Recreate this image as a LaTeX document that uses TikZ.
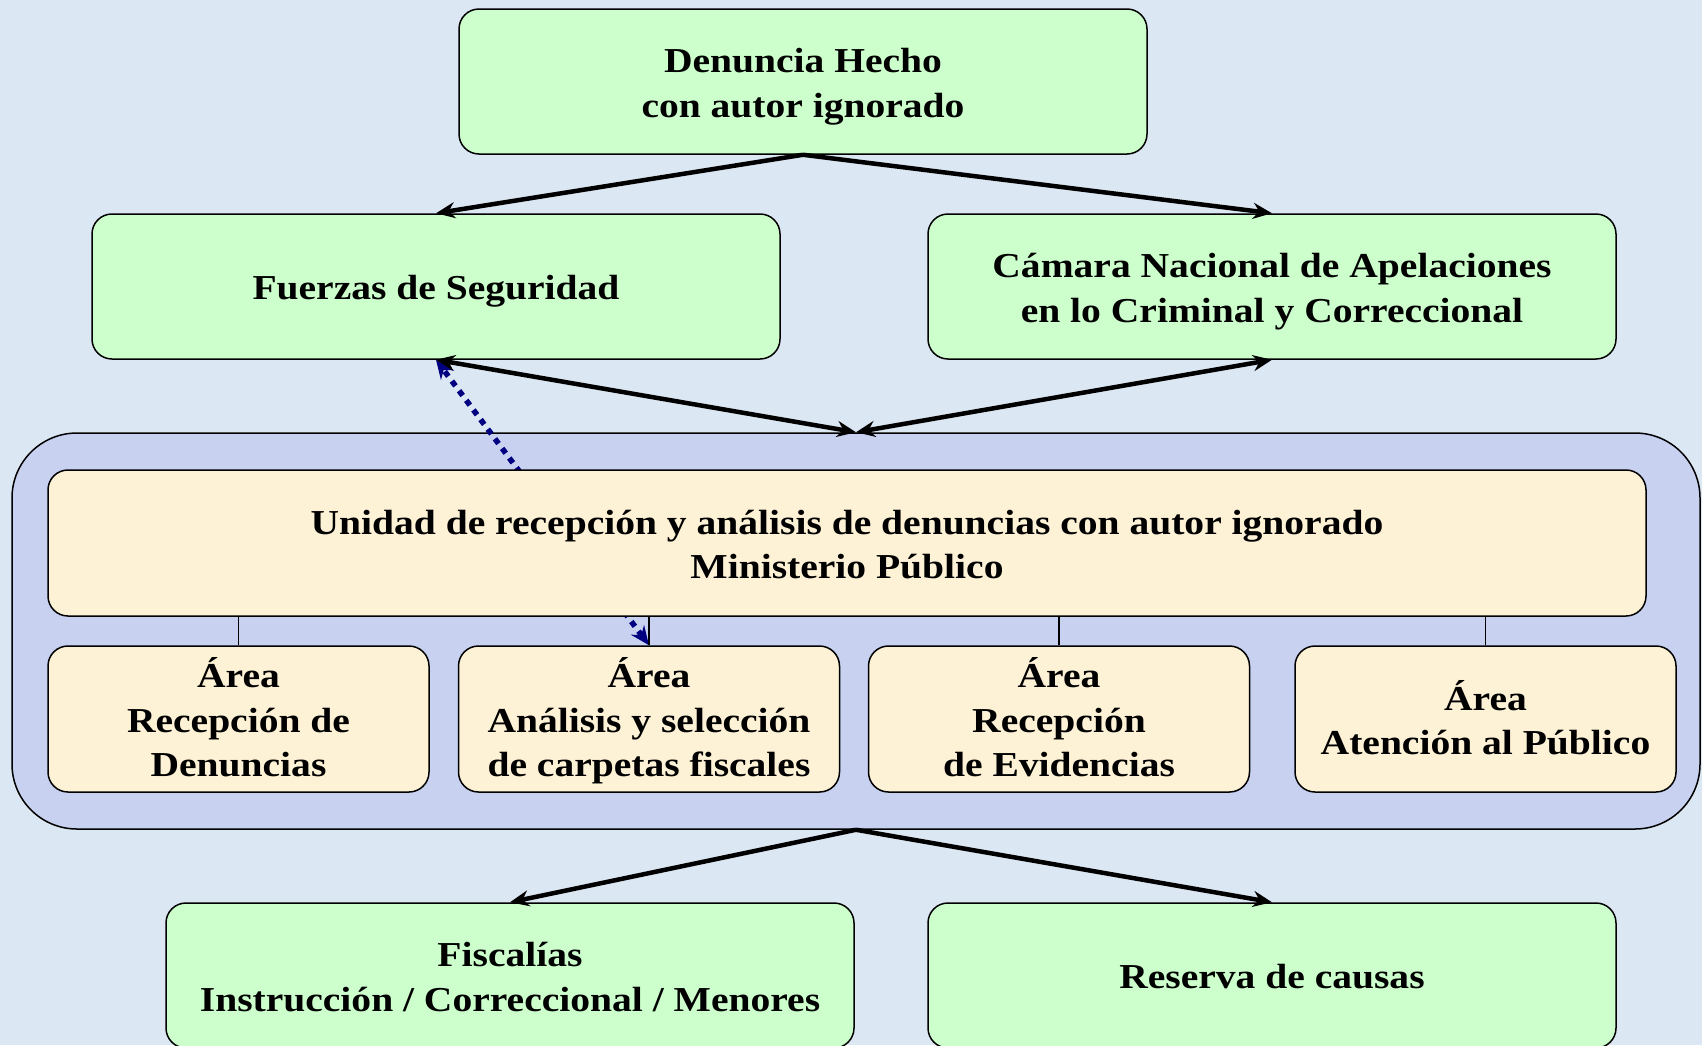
\documentclass[tikz,border=0pt]{standalone}
\usepackage{fontspec}
\setmainfont{Liberation Serif}[FakeStretch=1.13]
\usetikzlibrary{arrows.meta}
\definecolor{bgblue}{HTML}{DCE7F4}
\definecolor{contblue}{HTML}{C8D2F0}
\definecolor{boxgreen}{HTML}{CCFFCC}
\definecolor{boxbeige}{HTML}{FDF1D6}
\definecolor{dotnavy}{HTML}{000080}
\newcommand\mystr{\rule[-9pt]{0pt}{44.5pt}}
\tikzset{
  base/.style={draw=black, line width=1.5pt, rounded corners=20pt, inner sep=0pt, align=center,
    font=\fontsize{35}{44.5}\selectfont\bfseries},
  greenbox/.style={base, fill=boxgreen, minimum width=688pt, minimum height=145pt},
  beigebox/.style={base, fill=boxbeige},
  areabox/.style={beigebox, minimum width=381pt, minimum height=146pt},
  flow/.style={line width=4.5pt, -{Stealth[length=19pt,width=16pt]}},
  bflow/.style={line width=4.5pt, {Stealth[length=19pt,width=16pt]}-{Stealth[length=19pt,width=16pt]}},
  tick/.style={line width=1.5pt},
  dotflow/.style={line width=5.5pt, dotnavy, dash pattern=on 6pt off 6pt,
    {Stealth[length=19pt,width=16pt]}-{Stealth[length=19pt,width=16pt]}}
}
\begin{document}
\begin{tikzpicture}[x=1pt, y=-1pt]
\fill[bgblue] (0,0) rectangle (1702,1045);
\useasboundingbox (0,0) rectangle (1702,1045);

% outer container
\node[draw=black, line width=1.5pt, fill=contblue, rounded corners=65pt,
  minimum width=1688pt, minimum height=396pt, inner sep=0pt] (outer) at (856,631) {};

% top boxes
\node[greenbox] (top) at (803,81.5) {\mystr Denuncia Hecho\\con autor ignorado\mystr};
\node[greenbox] (fuerzas) at (436,286.5) {\mystr Fuerzas de Seguridad};
\node[greenbox] (camara) at (1272,286.5) {\mystr Cámara Nacional de Apelaciones\\en lo Criminal y Correccional\mystr};

% area boxes (drawn first so the dotted arrow sits behind the unidad box)
\node[areabox] (a1) at (238.5,719) {\mystr Área\\Recepción de\\Denuncias\mystr};
\node[areabox] (a2) at (649,719) {\mystr Área\\Análisis y selección\\de carpetas fiscales\mystr};
\node[areabox] (a3) at (1059,719) {\mystr Área\\Recepción\\de Evidencias\mystr};
\node[areabox] (a4) at (1485.5,719) {\mystr Área\\Atención al Público\mystr};

% dotted arrow
\draw[dotflow] (a2.north) -- (fuerzas.south);

% unidad box
\node[beigebox, minimum width=1598pt, minimum height=146pt] (unidad) at (847,543)
  {\mystr Unidad de recepción y análisis de denuncias con autor ignorado\\Ministerio Público\mystr};

% ticks
\foreach \a in {a1,a2,a3,a4} \draw[tick] (\a.north) -- (\a.north |- unidad.south);

% bottom boxes
\node[greenbox] (fiscalias) at (510,975.5) {\mystr Fiscalías\\Instrucción / Correccional / Menores\mystr};
\node[greenbox] (reserva) at (1272,975.5) {\mystr Reserva de causas};

% connectors
\coordinate (mtop) at (outer.north);
\coordinate (mbot) at (outer.south);
\draw[flow] (top.south) -- (fuerzas.north);
\draw[flow] (top.south) -- (camara.north);
\draw[bflow] (fuerzas.south) -- (mtop);
\draw[bflow] (camara.south) -- (mtop);
\draw[flow] (mbot) -- (fiscalias.north);
\draw[flow] (mbot) -- (reserva.north);
\end{tikzpicture}
\end{document}
